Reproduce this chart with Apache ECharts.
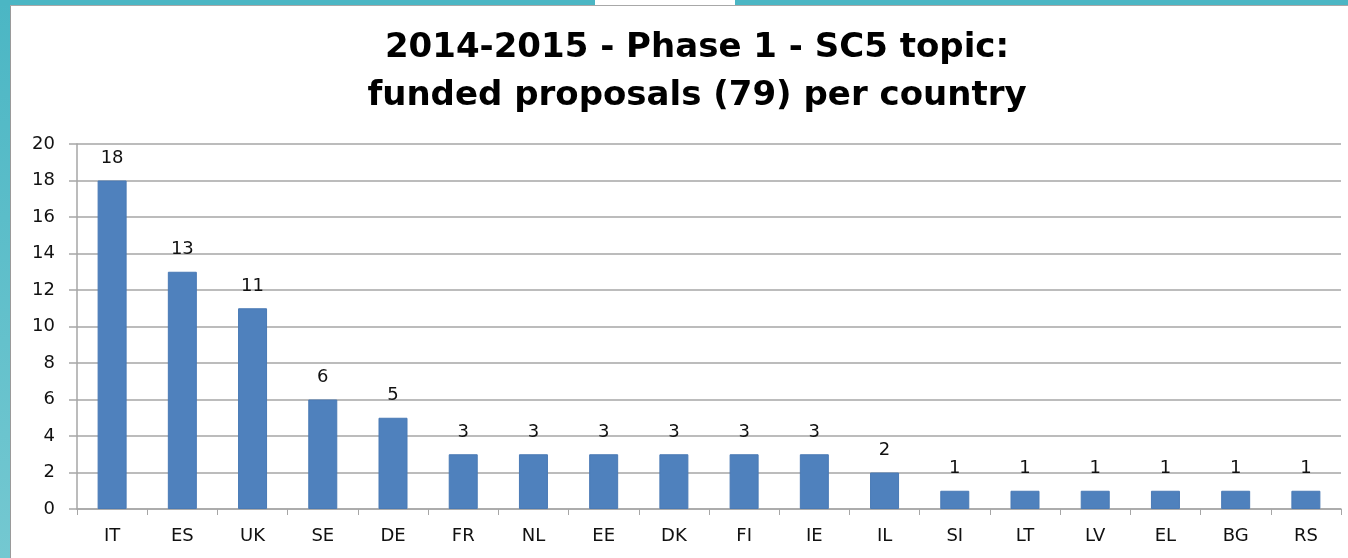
<!DOCTYPE html>
<html>
<head>
<meta charset="utf-8">
<script src="https://cdn.jsdelivr.net/npm/echarts@6/dist/echarts.min.js"></script>
<style>
html, body { margin: 0; padding: 0; background: #fff; }
#chart { width: 1348px; height: 558px; }
</style>
</head>
<body>
<div id="chart"></div>
<script>
const countries = ['IT', 'ES', 'UK', 'SE', 'DE', 'FR', 'NL', 'EE', 'DK', 'FI', 'IE', 'IL', 'SI', 'LT', 'LV', 'EL', 'BG', 'RS'];
const proposals = [18, 13, 11, 6, 5, 3, 3, 3, 3, 3, 3, 2, 1, 1, 1, 1, 1, 1];
const titleLines = ['2014-2015 - Phase 1 - SC5 topic:', 'funded proposals (79) per country'];

const chart = echarts.init(document.getElementById('chart'));

const options = {
    backgroundColor: '#fff',
    animation: false,
    title: {
        text: titleLines.join('\n'),
        left: 692,
        textAlign: 'center',
        top: 19,
        textStyle: {
            fontFamily: 'DejaVu Sans',
            fontWeight: 'bold',
            fontSize: 34,
            lineHeight: 48,
            color: '#000'
        }
    },
    graphic: [
        // teal frame, left and top
        {type: 'rect', shape: {x: 0, y: 0, width: 10, height: 558},
         style: {fill: new echarts.graphic.LinearGradient(0, 0, 0, 1, [
             {offset: 0, color: '#4bb6c4'}, {offset: 1, color: '#74c8d1'}])}},
        {type: 'rect', shape: {x: 10, y: 0, width: 1, height: 558}, style: {fill: '#9a9a9a'}},
        {type: 'rect', shape: {x: 0, y: 0, width: 595, height: 5}, style: {fill: '#4bb6c4'}},
        {type: 'rect', shape: {x: 735, y: 0, width: 613, height: 5}, style: {fill: '#4bb6c4'}},
        {type: 'rect', shape: {x: 10, y: 5, width: 1338, height: 1}, style: {fill: '#a8a8a8'}}
    ],
    grid: {
        left: 77,
        right: 7,
        top: 144,
        bottom: 49
    },
    xAxis: {
        type: 'category',
        data: countries,
        axisLine: {lineStyle: {color: '#a6a6a6', width: 1.5}},
        axisTick: {show: true, length: 6, lineStyle: {color: '#a6a6a6'}},
        axisLabel: {
            color: '#111',
            fontFamily: 'DejaVu Sans',
            fontSize: 18,
            margin: 18
        }
    },
    yAxis: {
        type: 'value',
        min: 0,
        max: 20,
        interval: 2,
        axisLine: {show: true, lineStyle: {color: '#a6a6a6', width: 1.5}},
        axisTick: {show: true, length: 8, lineStyle: {color: '#a6a6a6', width: 1.5}},
        splitLine: {lineStyle: {color: '#a6a6a6', width: 1.5}},
        axisLabel: {
            color: '#111',
            fontFamily: 'DejaVu Sans',
            fontSize: 18,
            margin: 22
        }
    },
    series: [
        {
            type: 'bar',
            data: proposals,
            barWidth: 29,
            itemStyle: {
                color: '#4f81bd',
                borderColor: '#4a7ab5',
                borderWidth: 1
            },
            label: {
                show: true,
                position: 'top',
                distance: 13,
                color: '#111',
                fontFamily: 'DejaVu Sans',
                fontSize: 18
            }
        }
    ]
};

chart.setOption(options);
</script>
</body>
</html>
